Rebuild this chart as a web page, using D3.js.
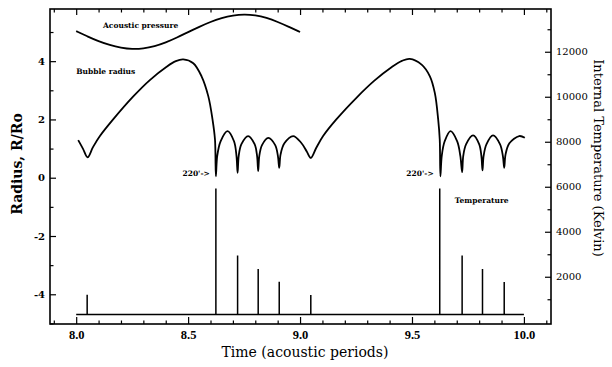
<!DOCTYPE html>
<html>
<head>
<meta charset="utf-8">
<style>
  body { margin: 0; background: #fff; }
  text { font-family: "DejaVu Serif", serif; fill: #000; }
</style>
</head>
<body>
<script src="https://d3js.org/d3.v7.min.js"></script>
<script>
// acoustic pressure trace (drawn on the radius scale)
var pressureT = [8.0, 8.05, 8.1, 8.15, 8.2, 8.25, 8.3, 8.35, 8.4, 8.45, 8.5,
                 8.55, 8.6, 8.65, 8.7, 8.75, 8.8, 8.85, 8.9, 8.95, 9.0];
var pressureR = [5.03, 4.85, 4.68, 4.55, 4.46, 4.41, 4.43, 4.51, 4.64, 4.81, 5.0,
                 5.18, 5.35, 5.48, 5.57, 5.61, 5.58, 5.49, 5.35, 5.18, 5.0];

// bubble radius R/Ro
var radiusT = [8.009, 8.030, 8.051, 8.075, 8.106, 8.165, 8.254, 8.329, 8.404, 8.445, 8.478,
               8.523, 8.560, 8.590, 8.609, 8.620, 8.624,
               8.630, 8.645, 8.676, 8.705, 8.716, 8.721,
               8.726, 8.738, 8.768, 8.797, 8.808, 8.813,
               8.818, 8.830, 8.858, 8.889, 8.901, 8.907,
               8.913, 8.930, 8.969, 9.005, 9.030, 9.048,
               9.072, 9.103, 9.162, 9.254, 9.332, 9.410, 9.455, 9.490,
               9.543, 9.580, 9.602, 9.617, 9.624, 9.627,
               9.633, 9.646, 9.672, 9.702, 9.716, 9.724,
               9.729, 9.742, 9.773, 9.800, 9.810, 9.815,
               9.820, 9.833, 9.862, 9.893, 9.906, 9.912,
               9.918, 9.935, 9.979, 10.004];
var radiusR = [1.29, 1.00, 0.70, 1.05, 1.43, 2.00, 2.78, 3.35, 3.81, 4.00, 4.06,
               3.93, 3.48, 2.80, 2.00, 1.31, 0.05,
               0.75, 1.25, 1.60, 1.25, 0.75, 0.17,
               0.75, 1.15, 1.43, 1.15, 0.75, 0.23,
               0.75, 1.12, 1.37, 1.12, 0.75, 0.34,
               0.80, 1.18, 1.43, 1.20, 0.90, 0.68,
               1.02, 1.43, 2.00, 2.76, 3.33, 3.80, 4.01, 4.08,
               3.88, 3.48, 2.91, 2.00, 1.31, 0.05,
               0.75, 1.25, 1.60, 1.25, 0.75, 0.19,
               0.75, 1.15, 1.45, 1.15, 0.75, 0.25,
               0.75, 1.15, 1.45, 1.15, 0.75, 0.34,
               0.80, 1.18, 1.43, 1.37];

// internal temperature: flat base with spikes at each collapse
var tempStart = 8.0, tempEnd = 10.0, tempBase = 320;
var spikeT = [8.049, 8.624, 8.721, 8.813, 8.907, 9.048, 9.624, 9.724, 9.815, 9.912];
var spikeK = [1200, 5920, 2950, 2350, 1780, 1190, 5920, 2950, 2350, 1770];

var xTicks = [8.0, 8.5, 9.0, 9.5, 10.0];
var xMinor = [7.9, 8.1, 8.2, 8.3, 8.4, 8.6, 8.7, 8.8, 8.9, 9.1, 9.2, 9.3, 9.4, 9.6, 9.7, 9.8, 9.9, 10.1];
var leftTicks = [-4, -2, 0, 2, 4];
var leftMinor = [-5, -3, -1, 1, 3, 5];
var rightTicks = [2000, 4000, 6000, 8000, 10000, 12000];
var rightMinor = [1000, 3000, 5000, 7000, 9000, 11000, 13000];

var w = 612, h = 367;
var pL = 50, pR = 551, pT = 9, pB = 324;

var svg = d3.select('body').append('svg').attr('width', w).attr('height', h);

var x = d3.scaleLinear().domain([7.883, 10.121]).range([pL, pR]);
var yL = d3.scaleLinear().domain([-5.02, 5.79]).range([pB, pT]);
var yR = d3.scaleLinear().domain([-100, 13900]).range([pB, pT]);

function clean(g) {
  g.select('.domain').remove();
  g.selectAll('line').attr('stroke', '#000').attr('stroke-width', 1.2);
}

// major + minor ticks, all pointing into the plot
svg.append('g').attr('transform', 'translate(0,' + pB + ')')
  .call(d3.axisBottom(x).tickValues(xTicks).tickSize(-7).tickPadding(6)
    .tickFormat(function(d) { return d.toFixed(1); }))
  .call(clean)
  .selectAll('text').style('font-size', '12.5px').style('font-weight', 'bold')
  .style('font-family', '"Liberation Serif", serif');
svg.append('g').attr('transform', 'translate(0,' + pB + ')')
  .call(d3.axisBottom(x).tickValues(xMinor).tickSize(-3.5).tickFormat(''))
  .call(clean);
svg.append('g').attr('transform', 'translate(0,' + pT + ')')
  .call(d3.axisTop(x).tickValues(xTicks).tickSize(-6).tickFormat(''))
  .call(clean);
svg.append('g').attr('transform', 'translate(0,' + pT + ')')
  .call(d3.axisTop(x).tickValues(xMinor).tickSize(-3.5).tickFormat(''))
  .call(clean);

svg.append('g').attr('transform', 'translate(' + pL + ',0)')
  .call(d3.axisLeft(yL).tickValues(leftTicks).tickSize(-6).tickPadding(5)
    .tickFormat(function(d) { return String(d); }))
  .call(clean)
  .selectAll('text').style('font-size', '10px').style('font-weight', 'bold');
svg.append('g').attr('transform', 'translate(' + pL + ',0)')
  .call(d3.axisLeft(yL).tickValues(leftMinor).tickSize(-3.5).tickFormat(''))
  .call(clean);

svg.append('g').attr('transform', 'translate(' + pR + ',0)')
  .call(d3.axisRight(yR).tickValues(rightTicks).tickSize(-6).tickPadding(5)
    .tickFormat(function(d) { return String(d); }))
  .call(clean)
  .selectAll('text').style('font-size', '10px');
svg.append('g').attr('transform', 'translate(' + pR + ',0)')
  .call(d3.axisRight(yR).tickValues(rightMinor).tickSize(-3.5).tickFormat(''))
  .call(clean);

// frame
svg.append('rect')
  .attr('x', pL).attr('y', pT)
  .attr('width', pR - pL).attr('height', pB - pT)
  .attr('fill', 'none').attr('stroke', '#000').attr('stroke-width', 1.6);

// temperature line built from base + spikes
var tempPts = [[tempStart, tempBase]];
spikeT.forEach(function(t, i) {
  tempPts.push([t, tempBase]);
  tempPts.push([t, spikeK[i]]);
  tempPts.push([t, tempBase]);
});
tempPts.push([tempEnd, tempBase]);

svg.append('path')
  .datum(tempPts)
  .attr('fill', 'none').attr('stroke', '#000').attr('stroke-width', 1.5)
  .attr('d', d3.line().x(function(d) { return x(d[0]); }).y(function(d) { return yR(d[1]); }));

var radiusLine = d3.line()
  .x(function(d, i) { return x(radiusT[i]); })
  .y(function(d) { return yL(d); })
  .curve(d3.curveCatmullRom.alpha(0.5));
svg.append('path')
  .datum(radiusR)
  .attr('fill', 'none').attr('stroke', '#000').attr('stroke-width', 1.8)
  .attr('stroke-linejoin', 'round')
  .attr('d', radiusLine);

var pressureLine = d3.line()
  .x(function(d, i) { return x(pressureT[i]); })
  .y(function(d) { return yL(d); })
  .curve(d3.curveBasis);
svg.append('path')
  .datum(pressureR)
  .attr('fill', 'none').attr('stroke', '#000').attr('stroke-width', 1.8)
  .attr('d', pressureLine);

// annotations
function note(xp, yp, txt, anchor) {
  svg.append('text').attr('x', xp).attr('y', yp)
    .attr('text-anchor', anchor || 'start')
    .style('font-weight', 'bold').style('font-size', '7.5px')
    .text(txt);
}
note(x(8.12), yL(5.13), 'Acoustic pressure');
note(x(8.0), yL(3.55), 'Bubble radius');
note(x(spikeT[1] - 0.027), yL(0.06), "220'->", 'end');
note(x(spikeT[6] - 0.027), yL(0.06), "220'->", 'end');
note(x(9.691), yR(5260), 'Temperature');

// axis titles
svg.append('text')
  .attr('x', 305).attr('y', 357)
  .attr('text-anchor', 'middle')
  .style('font-size', '14px')
  .text('Time (acoustic periods)');

svg.append('text')
  .attr('transform', 'translate(22,164) rotate(-90)')
  .attr('text-anchor', 'middle')
  .style('font-size', '14px').style('font-weight', 'bold')
  .text('Radius, R/Ro');

svg.append('text')
  .attr('transform', 'translate(594,158) rotate(90)')
  .attr('text-anchor', 'middle')
  .style('font-size', '13px')
  .text('Internal Temperature (Kelvin)');
</script>
</body>
</html>
